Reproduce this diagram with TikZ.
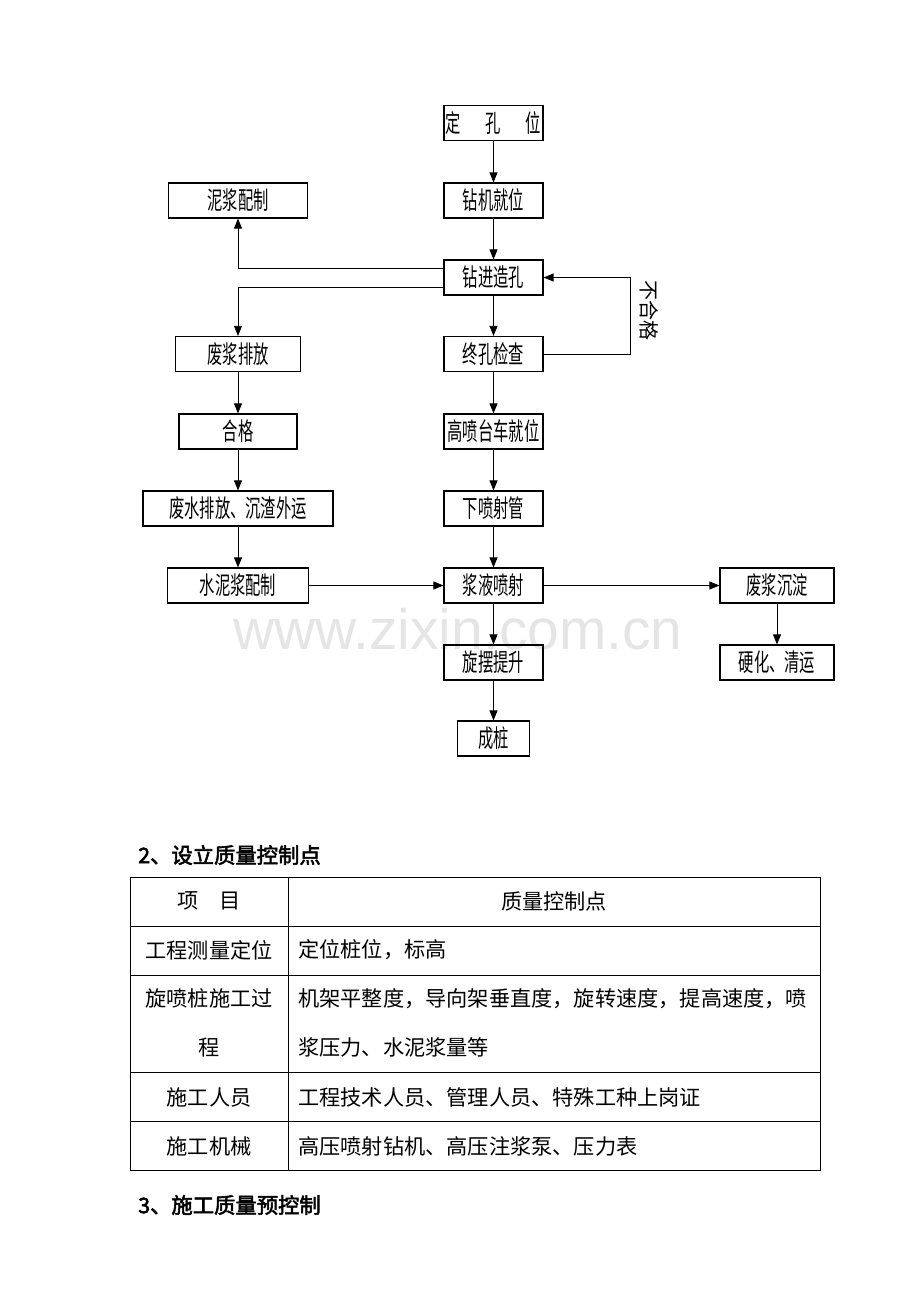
\documentclass[tikz,border=0pt]{standalone}
\usepackage{fontspec}
\setmainfont{Noto Sans CJK SC}[AutoFakeBold=2.5]
\newfontfamily\flowfont{Noto Sans CJK SC}[FakeStretch=0.62]
\newfontfamily\markfont{Liberation Sans}
\usetikzlibrary{arrows.meta}

\begin{document}
\begin{tikzpicture}[
        x=0.75pt, y=-0.75pt,
        every node/.style={align=center, inner sep=0pt},
        box/.style={draw, line width=0.9pt, minimum width=74.25pt, minimum height=26.25pt,
            font=\flowfont\fontsize{18.5pt}{20pt}\selectfont},
        flow/.style={line width=0.6pt, -{Triangle[length=7.5pt, width=6pt]}},
        cell/.style={font=\fontsize{15.9pt}{36.75pt}\selectfont},
        heading/.style={anchor=west, font=\bfseries\fontsize{16pt}{18pt}\selectfont}
    ]
    \useasboundingbox (0,0) rectangle (920,1302);
    \node[text=black!10, font=\markfont\fontsize{42.7pt}{44pt}\selectfont] (mark) at (458,629) {www.zixin.com.cn};

    % main column
    \node[box] (dkw) at (493.5,123) {定\quad 孔\quad 位};
    \node[box] (zjjw) at (493.5,200.5) {钻机就位};
    \node[box] (zjzk) at (493.5,277.5) {钻进造孔};
    \node[box] (zkjc) at (493.5,354) {终孔检查};
    \node[box] (gptc) at (493.5,431.5) {高喷台车就位};
    \node[box] (xpsg) at (493.5,508.5) {下喷射管};
    \node[box] (jyps) at (493.5,585.5) {浆液喷射};
    \node[box] (xbts) at (493.5,662.5) {旋摆提升};
    \node[box, minimum width=54pt] (cz) at (493.5,738.5) {成桩};

    % left column
    \node[box, minimum width=104.25pt] (njpz) at (238,200.5) {泥浆配制};
    \node[box, minimum width=93.75pt] (fjpf) at (238,354) {废浆排放};
    \node[box, minimum width=88.5pt] (hg) at (238,431.5) {合格};
    \node[box, minimum width=142.5pt] (fspf) at (238,508.5) {废水排放、沉渣外运};
    \node[box, minimum width=105.75pt] (snjpz) at (238,585.5) {水泥浆配制};

    % right column
    \node[box, minimum width=85.5pt] (fjcd) at (777,585.5) {废浆沉淀};
    \node[box, minimum width=85.5pt] (yhqy) at (777,662.5) {硬化、清运};

    \node[rotate=-90, font=\fontsize{15pt}{15pt}\selectfont] (bhg) at (649,310) {不合格};

    % connectors
    \draw[flow] (dkw) -- (zjjw);
    \draw[flow] (zjjw) -- (zjzk);
    \draw[flow] (zjzk) -- (zkjc);
    \draw[flow] (zkjc) -- (gptc);
    \draw[flow] (gptc) -- (xpsg);
    \draw[flow] (xpsg) -- (jyps);
    \draw[flow] (jyps) -- (xbts);
    \draw[flow] (xbts) -- (cz);
    \draw[flow] ([yshift=7pt]zjzk.west) -| (njpz.south);
    \draw[flow] ([yshift=-7.5pt]zjzk.west) -| (fjpf.north);
    \draw[flow] (fjpf) -- (hg);
    \draw[flow] (hg) -- (fspf);
    \draw[flow] (fspf) -- (snjpz);
    \draw[flow] (snjpz) -- (jyps);
    \draw[flow] (jyps) -- (fjcd);
    \draw[flow] (fjcd) -- (yhqy);
    \draw[flow] (zkjc.east) -- ++(87,0) |- (zjzk.east);

    % quality control table
    \node[heading] (h2) at (138,855) {2、设立质量控制点};
    \draw[line width=0.6pt] (130,877) rectangle (820,1170);
    \draw[line width=0.6pt] (288,877) -- (288,1170);
    \foreach \y in {926,975,1072,1121}
        \draw[line width=0.6pt] (130,\y) -- (820,\y);
    \node[cell] (c11) at (209,901) {项\quad 目};
    \node[cell] (c12) at (554,901) {质量控制点};
    \node[cell] (c21) at (209,950) {工程测量定位};
    \node[cell, anchor=west] (c22) at (298,950) {定位桩位，标高};
    \node[cell] (c31) at (209,1023) {旋喷桩施工过\\程};
    \node[cell, anchor=west, align=left] (c32) at (298,1023) {机架平整度，导向架垂直度，旋转速度，提高速度，喷\\浆压力、水泥浆量等};
    \node[cell] (c41) at (209,1097) {施工人员};
    \node[cell, anchor=west] (c42) at (298,1097) {工程技术人员、管理人员、特殊工种上岗证};
    \node[cell] (c51) at (209,1146) {施工机械};
    \node[cell, anchor=west] (c52) at (298,1146) {高压喷射钻机、高压注浆泵、压力表};
    \node[heading] (h3) at (138,1205) {3、施工质量预控制};
\end{tikzpicture}
\end{document}
